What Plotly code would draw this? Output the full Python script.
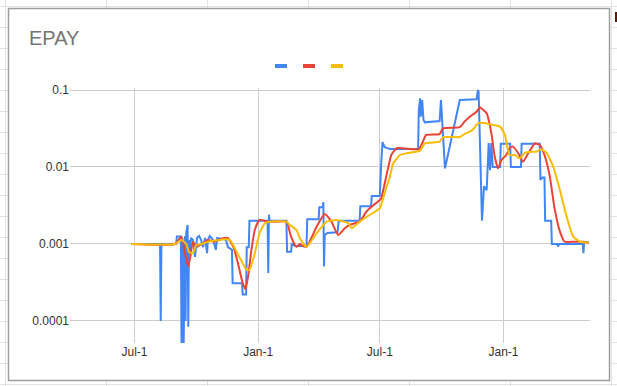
import plotly.graph_objects as go

# ---------------- data ----------------
blue_dates = [
    "2020-06-26", "2020-08-08", "2020-08-09", "2020-08-10", "2020-09-01", "2020-09-02",
    "2020-09-08", "2020-09-09", "2020-09-11", "2020-09-12", "2020-09-14", "2020-09-15",
    "2020-09-16", "2020-09-18", "2020-09-19", "2020-09-20", "2020-09-22", "2020-09-23",
    "2020-09-26", "2020-09-29", "2020-10-02", "2020-10-05", "2020-10-08", "2020-10-11",
    "2020-10-14", "2020-10-17", "2020-10-18", "2020-10-21", "2020-10-26", "2020-10-30",
    "2020-11-01", "2020-11-14", "2020-11-17", "2020-11-23", "2020-11-24", "2020-12-08",
    "2020-12-09", "2020-12-14", "2020-12-15", "2020-12-18", "2020-12-19", "2021-01-15",
    "2021-01-16", "2021-01-17", "2021-01-18", "2021-02-12", "2021-02-13", "2021-02-19",
    "2021-02-20", "2021-02-25", "2021-03-14", "2021-03-15", "2021-04-01", "2021-04-02",
    "2021-04-07", "2021-04-08", "2021-04-09", "2021-04-10", "2021-04-14", "2021-04-29",
    "2021-05-01", "2021-06-01", "2021-06-02", "2021-06-18", "2021-06-19", "2021-07-01",
    "2021-07-02", "2021-07-03", "2021-07-05", "2021-07-08", "2021-07-11", "2021-07-16",
    "2021-08-27", "2021-08-28", "2021-08-30", "2021-08-31", "2021-09-02", "2021-09-04",
    "2021-09-06", "2021-09-28", "2021-09-30", "2021-10-06", "2021-10-28", "2021-11-16",
    "2021-11-22", "2021-11-24", "2021-11-25", "2021-11-30", "2021-12-03", "2021-12-07",
    "2021-12-10", "2021-12-12", "2021-12-14", "2021-12-16", "2021-12-27", "2021-12-28",
    "2022-01-11", "2022-01-12", "2022-01-27", "2022-01-28", "2022-02-24", "2022-02-25",
    "2022-02-28", "2022-03-03", "2022-03-04", "2022-03-13", "2022-03-14", "2022-03-22",
    "2022-03-23", "2022-03-25", "2022-04-29", "2022-04-30", "2022-05-01", "2022-05-08",
]
blue_values = [
    0.001, 0.001, 0.0001, 0.001, 0.001, 0.00125,
    0.00125, 0.00004, 0.00113, 0.00004, 0.00127, 0.0001,
    0.0014, 0.00177, 0.000084, 0.00113, 0.00076, 0.0012,
    0.00113, 0.00068, 0.0012, 0.00127, 0.00113, 0.00091,
    0.0012, 0.00076, 0.00113, 0.00127, 0.00113, 0.00084,
    0.0012, 0.00113, 0.00091, 0.00084, 0.00031, 0.00031,
    0.00022, 0.00022, 0.00091, 0.00091, 0.002, 0.002,
    0.00042, 0.0024, 0.002, 0.002, 0.00079, 0.00079,
    0.001, 0.00094, 0.00094, 0.0021, 0.0021, 0.003,
    0.003, 0.0035, 0.00051, 0.0013, 0.00139, 0.00142,
    0.002, 0.002, 0.0031, 0.0031, 0.0042, 0.0042,
    0.0101, 0.0107, 0.0211, 0.0182, 0.0177, 0.0171,
    0.0171, 0.055, 0.078, 0.045, 0.074, 0.0408,
    0.038, 0.0396, 0.074, 0.0096, 0.074, 0.075,
    0.076, 0.1, 0.095, 0.002, 0.0056, 0.005,
    0.0205, 0.0091, 0.0205, 0.01, 0.01, 0.02,
    0.02, 0.01, 0.01, 0.02, 0.02, 0.0068,
    0.0073, 0.0073, 0.002, 0.002, 0.001, 0.001,
    0.00093, 0.001, 0.001, 0.00076, 0.00106, 0.00105,
]

red_dates = [
    "2020-06-26", "2020-08-30", "2020-09-09", "2020-09-14", "2020-09-19", "2020-09-22",
    "2020-09-26", "2020-10-01", "2020-10-09", "2020-10-18", "2020-10-28", "2020-11-09",
    "2020-11-17", "2020-11-25", "2020-12-02", "2020-12-09", "2020-12-13", "2020-12-17",
    "2020-12-22", "2020-12-27", "2021-01-03", "2021-01-16", "2021-01-29", "2021-02-12",
    "2021-02-19", "2021-02-27", "2021-03-04", "2021-03-06", "2021-03-14", "2021-03-29",
    "2021-04-10", "2021-04-20", "2021-04-30", "2021-05-10", "2021-05-17", "2021-06-01",
    "2021-06-11", "2021-06-16", "2021-07-01", "2021-07-03", "2021-07-11", "2021-07-16",
    "2021-07-18", "2021-07-26", "2021-08-28", "2021-09-03", "2021-09-08", "2021-09-28",
    "2021-10-03", "2021-10-28", "2021-11-04", "2021-11-12", "2021-11-22", "2021-11-27",
    "2021-12-02", "2021-12-07", "2021-12-14", "2021-12-19", "2021-12-24", "2021-12-29",
    "2022-01-05", "2022-01-10", "2022-01-15", "2022-01-23", "2022-01-30", "2022-02-07",
    "2022-02-17", "2022-02-24", "2022-03-03", "2022-03-11", "2022-03-18", "2022-03-26",
    "2022-04-02", "2022-04-15", "2022-04-30", "2022-05-08",
]
red_values = [
    0.001, 0.001, 0.00124, 0.00076, 0.00051, 0.00068,
    0.00107, 0.00092, 0.001, 0.00113, 0.00107, 0.00119,
    0.00119, 0.00092, 0.00056, 0.00031, 0.00026, 0.00038,
    0.00084, 0.00152, 0.00205, 0.00195, 0.00195, 0.00195,
    0.00124, 0.00092, 0.001, 0.00097, 0.00092, 0.00168,
    0.00245, 0.00195, 0.00131, 0.0016, 0.00177, 0.00195,
    0.00263, 0.00291, 0.00373, 0.0039, 0.0079, 0.0123,
    0.0143, 0.0175, 0.0171, 0.0213, 0.0261, 0.0268,
    0.0318, 0.033, 0.0388, 0.045, 0.0523, 0.0596,
    0.055, 0.0498, 0.0274, 0.0136, 0.0096, 0.0123,
    0.0143, 0.0175, 0.0184, 0.0151, 0.0117, 0.0151,
    0.0203, 0.0193, 0.0143, 0.0075, 0.0029, 0.00145,
    0.00107, 0.00107, 0.00107, 0.00103,
]

yellow_dates = [
    "2020-06-26", "2020-08-30", "2020-09-09", "2020-09-16", "2020-09-20", "2020-09-26",
    "2020-10-01", "2020-10-09", "2020-10-18", "2020-11-05", "2020-11-10", "2020-11-20",
    "2020-11-30", "2020-12-09", "2020-12-15", "2020-12-19", "2020-12-27", "2021-01-03",
    "2021-01-11", "2021-01-18", "2021-02-12", "2021-02-17", "2021-02-27", "2021-03-04",
    "2021-03-14", "2021-03-29", "2021-04-13", "2021-04-28", "2021-05-15", "2021-05-20",
    "2021-06-01", "2021-06-16", "2021-07-01", "2021-07-03", "2021-07-11", "2021-07-16",
    "2021-07-21", "2021-07-31", "2021-08-10", "2021-08-30", "2021-09-06", "2021-09-28",
    "2021-10-03", "2021-10-28", "2021-11-04", "2021-11-12", "2021-11-17", "2021-11-24",
    "2021-11-29", "2021-12-17", "2021-12-27", "2022-01-03", "2022-01-10", "2022-01-18",
    "2022-01-25", "2022-02-02", "2022-02-12", "2022-02-19", "2022-02-26", "2022-03-06",
    "2022-03-16", "2022-03-26", "2022-04-05", "2022-04-15", "2022-04-25", "2022-05-08",
]
yellow_values = [
    0.001, 0.001, 0.00113, 0.001, 0.00079, 0.00076,
    0.00097, 0.001, 0.00107, 0.00113, 0.00115, 0.00113,
    0.00079, 0.00056, 0.00046, 0.00046, 0.00076, 0.00138,
    0.00186, 0.00195, 0.00195, 0.00177, 0.00152, 0.00119,
    0.00092, 0.00138, 0.00195, 0.00205, 0.00186, 0.0016,
    0.00195, 0.00238, 0.00291, 0.00321, 0.0055, 0.0075,
    0.0112, 0.0143, 0.0151, 0.0163, 0.0203, 0.0213,
    0.0243, 0.0245, 0.0268, 0.0287, 0.0309, 0.037,
    0.0376, 0.0351, 0.0334, 0.0261, 0.0143, 0.0143,
    0.013, 0.0153, 0.0158, 0.0158, 0.017, 0.0153,
    0.0101, 0.005, 0.00226, 0.00124, 0.00107, 0.00104,
]

title_text = "EPAY"
x_tick_dates = ["2020-07-01", "2021-01-01", "2021-07-01", "2022-01-01"]
x_tick_labels = ["Jul-1", "Jan-1", "Jul-1", "Jan-1"]
y_tick_values = [0.0001, 0.001, 0.01, 0.1]
y_tick_labels = ["0.0001", "0.001", "0.01", "0.1"]

BLUE, RED, YELLOW = "#4285F4", "#EA4335", "#FBBC04"

# ---------------- layout geometry ----------------
W, H = 617, 386
L, R, T, B = 70, 590, 88, 343   # plot area in pixels


def px(x):
    return (x - L) / (R - L)


def py(y):
    return (B - y) / (B - T)


fig = go.Figure()
fig.add_trace(go.Scatter(x=blue_dates, y=blue_values, mode="lines",
                         line=dict(color=BLUE, width=2), showlegend=False))
fig.add_trace(go.Scatter(x=red_dates, y=red_values, mode="lines",
                         line=dict(color=RED, width=2, shape="spline", smoothing=0.5),
                         showlegend=False))
fig.add_trace(go.Scatter(x=yellow_dates, y=yellow_values, mode="lines",
                         line=dict(color=YELLOW, width=2, shape="spline", smoothing=0.5),
                         showlegend=False))

shapes = []
# spreadsheet cell grid
for gx in [5, 106, 207, 308, 409, 510, 611]:
    shapes.append(dict(type="line", xref="paper", yref="paper", layer="below",
                       x0=px(gx + 0.5), x1=px(gx + 0.5), y0=py(0), y1=py(H),
                       line=dict(color="#e2e2e2", width=1)))
for i in range(19):
    gy = 6.5 + 21 * i
    shapes.append(dict(type="line", xref="paper", yref="paper", layer="below",
                       x0=px(0), x1=px(W), y0=py(gy), y1=py(gy),
                       line=dict(color="#e2e2e2", width=1)))
# chart box
shapes.append(dict(type="rect", xref="paper", yref="paper", layer="below",
                   x0=px(8.5), x1=px(609.5), y0=py(8.5), y1=py(380.5),
                   fillcolor="white", line=dict(color="#9e9e9e", width=1.5)))
# clipped cell text fragment on the right
shapes.append(dict(type="rect", xref="paper", yref="paper", layer="below",
                   x0=px(615), x1=px(617), y0=py(12), y1=py(22),
                   fillcolor="#5a1a0a", line=dict(width=0)))
# legend markers (series without names)
for cx, col in [(281, BLUE), (309, RED), (337, YELLOW)]:
    shapes.append(dict(type="rect", xref="paper", yref="paper", layer="above",
                       x0=px(cx - 6), x1=px(cx + 6), y0=py(64), y1=py(68),
                       fillcolor=col, line=dict(width=0)))

fig.update_layout(
    width=W, height=H,
    margin=dict(l=L, r=W - R, t=T, b=H - B, pad=0),
    paper_bgcolor="white",
    plot_bgcolor="rgba(0,0,0,0)",
    font=dict(family="Liberation Sans, Arial, sans-serif", size=12, color="#333333"),
    shapes=shapes,
    showlegend=False,
    annotations=[dict(text=title_text, xref="paper", yref="paper",
                      x=px(27), y=py(38), xanchor="left", yanchor="middle",
                      showarrow=False,
                      font=dict(family="Liberation Sans, Arial, sans-serif",
                                size=20, color="#757575"))],
)
fig.update_xaxes(type="date", range=["2020-03-27", "2022-05-09 18:00"],
                 tickmode="array", tickvals=x_tick_dates, ticktext=x_tick_labels,
                 showgrid=True, gridcolor="#cccccc", gridwidth=1,
                 zeroline=False, showline=False, ticks="",
                 tickfont=dict(size=12, color="#333333"))
fig.update_yaxes(type="log", range=[-4.286, -0.974],
                 tickmode="array", tickvals=y_tick_values, ticktext=y_tick_labels,
                 showgrid=True, gridcolor="#cccccc", gridwidth=1,
                 zeroline=False, showline=False, ticks="",
                 tickfont=dict(size=12, color="#333333"))

fig.write_html("out.html")
